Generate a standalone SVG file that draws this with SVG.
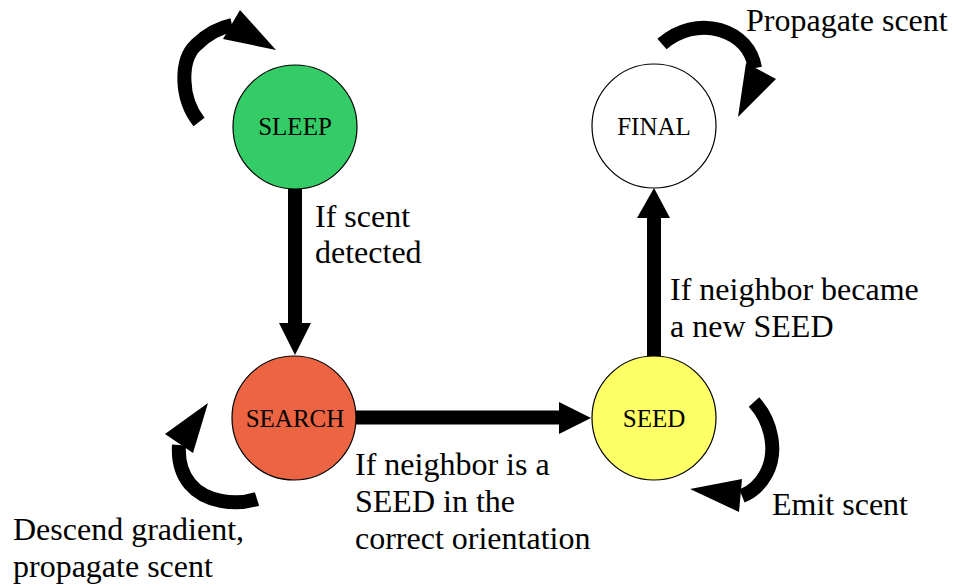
<svg xmlns="http://www.w3.org/2000/svg" width="954" height="588" viewBox="0 0 954 588">
<style>
.node{stroke:#000;stroke-width:1.2}
.lbl{font-size:25px;fill:#000;text-anchor:middle}
.txt{font-size:32px;fill:#000}
.shaft{fill:none;stroke:#000;stroke-width:14;stroke-linecap:butt}
.head{fill:#000;stroke:none}
</style>
<rect width="954" height="588" fill="#fff"/>
<g id="connectors">
<line class="shaft" x1="295" y1="188" x2="295" y2="324"/>
<polygon class="head" points="279,323 311,323 295,355"/>
<line class="shaft" x1="355" y1="417.5" x2="560" y2="417.5"/>
<polygon class="head" points="559,402 559,434 591,418"/>
<line class="shaft" x1="654" y1="357" x2="654" y2="217"/>
<polygon class="head" points="637,218 670,218 654,188"/>
<path class="shaft" d="M199,122 C180,98 180,60 196,45 C207,34 218,28 232,25"/>
<polygon class="head" points="240,10 276,50 223,39"/>
<path class="shaft" d="M662,44 C678,30 700,24 720,30 C740,36 752,50 755,68"/>
<polygon class="head" points="746,63 776,79 738,117"/>
<path class="shaft" d="M257,499 C235,506 205,502 190,484 C181,473 178,460 179,445"/>
<polygon class="head" points="165,434 208,403 193,453"/>
<path class="shaft" d="M754,402 C772,422 778,452 766,474 C760,485 752,492 742,496"/>
<polygon class="head" points="690,489 742,479 739,512"/>
</g>
<g font-family="Liberation Serif, Times New Roman, DejaVu Serif, serif">
<g id="sleep">
<circle class="node" cx="295" cy="127" r="62" fill="#33cc66"/>
<text class="lbl" x="295" y="135">SLEEP</text>
</g>
<g id="search">
<circle class="node" cx="294" cy="418" r="62" fill="#ec6442"/>
<text class="lbl" x="295" y="427">SEARCH</text>
</g>
<g id="seed">
<circle class="node" cx="654" cy="418" r="62" fill="#ffff66"/>
<text class="lbl" x="654" y="427">SEED</text>
</g>
<g id="final">
<circle class="node" cx="654" cy="126" r="62" fill="#ffffff"/>
<text class="lbl" x="654" y="135">FINAL</text>
</g>
<g id="labels">
<text class="txt" x="315" y="227">If scent</text>
<text class="txt" x="315" y="263">detected</text>
<text class="txt" x="670" y="300">If neighbor became</text>
<text class="txt" x="670" y="337">a new SEED</text>
<text class="txt" x="355" y="475">If neighbor is a</text>
<text class="txt" x="355" y="512">SEED in the</text>
<text class="txt" x="355" y="549">correct orientation</text>
<text class="txt" x="13" y="540">Descend gradient,</text>
<text class="txt" x="13" y="577">propagate scent</text>
<text class="txt" x="772" y="515">Emit scent</text>
<text class="txt" x="746" y="31">Propagate scent</text>
</g>
</g>
</svg>
